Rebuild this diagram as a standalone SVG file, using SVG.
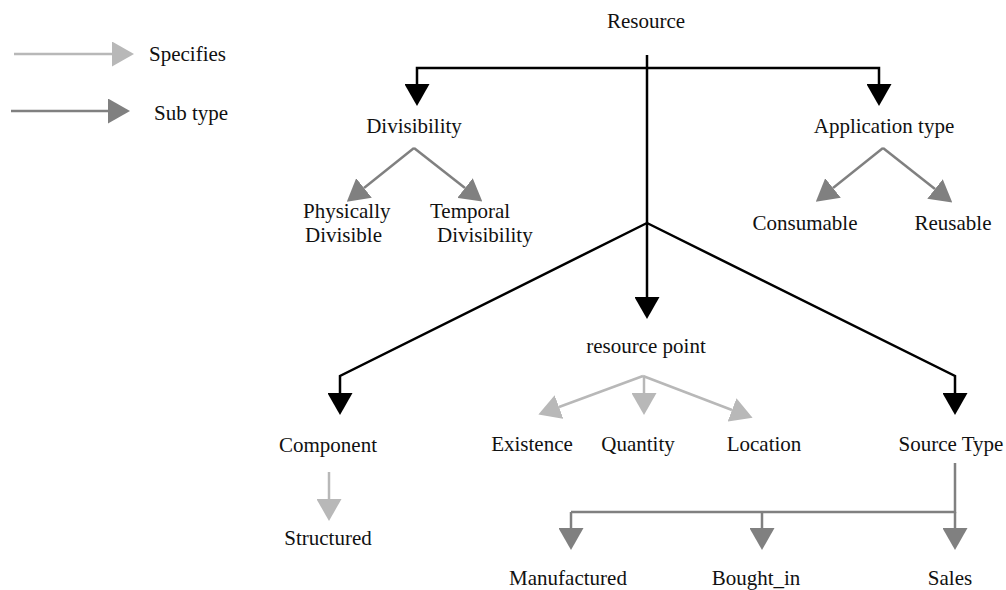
<svg xmlns="http://www.w3.org/2000/svg" width="1006" height="590" viewBox="0 0 1006 590">
<style>
text{font-family:"Liberation Serif","Times New Roman",serif;font-size:21px;fill:#111;text-anchor:middle}
.s{text-anchor:start}
.k{fill:none;stroke:#000;stroke-width:2.5}
.d{fill:none;stroke:#808080;stroke-width:2.5}
.l{fill:none;stroke:#b8b8b8;stroke-width:2.5}
.k{marker-end:url(#ak)}
.d{marker-end:url(#ad)}
.l{marker-end:url(#al)}
.nm{marker-end:none}
</style>
<defs>
<marker id="ak" viewBox="0 0 22 25" refX="0" refY="12.5" markerWidth="22" markerHeight="25" markerUnits="userSpaceOnUse" orient="auto"><path d="M0,0L22,12.5L0,25z" fill="#000"/></marker>
<marker id="ad" viewBox="0 0 22 25" refX="0" refY="12.5" markerWidth="22" markerHeight="25" markerUnits="userSpaceOnUse" orient="auto"><path d="M0,0L22,12.5L0,25z" fill="#808080"/></marker>
<marker id="al" viewBox="0 0 22 25" refX="0" refY="12.5" markerWidth="22" markerHeight="25" markerUnits="userSpaceOnUse" orient="auto"><path d="M0,0L22,12.5L0,25z" fill="#b8b8b8"/></marker>
</defs>
<g id="legend">
<path class="l" d="M14,54H112"/>
<text class="s" x="149" y="61">Specifies</text>
<path class="d" d="M11,111H108"/>
<text class="s" x="154" y="120">Sub type</text>
</g>
<g id="connectors">
<path class="k" d="M647,55V297"/>
<path class="k" d="M647,68H417V84"/>
<path class="k" d="M647,68H879V84"/>
<path class="k" d="M647,223L340,376V393"/>
<path class="k" d="M647,223L955,376V393"/>
<path class="d" d="M414,148L364,188"/>
<path class="d" d="M414,148L465,188"/>
<path class="d" d="M883,148L833,188"/>
<path class="d" d="M883,148L935,189"/>
<path class="l" d="M643,376L559,407"/>
<path class="l" d="M644,376V393"/>
<path class="l" d="M643,376L732,410"/>
<path class="l" d="M329,472V499"/>
<path class="d nm" d="M955,463V512H571"/>
<path class="d" d="M571,512V528"/>
<path class="d" d="M762,512V528"/>
<path class="d" d="M955,512V528"/>
</g>
<g id="resource"><text x="646" y="28">Resource</text></g>
<g id="divisibility"><text x="414" y="133">Divisibility</text></g>
<g id="application-type"><text x="884" y="133">Application type</text></g>
<g id="physically-divisible"><text class="s" x="303" y="218">Physically</text><text class="s" x="305" y="242">Divisible</text></g>
<g id="temporal-divisibility"><text class="s" x="430" y="218">Temporal</text><text class="s" x="437" y="242">Divisibility</text></g>
<g id="consumable"><text x="805" y="230">Consumable</text></g>
<g id="reusable"><text x="953" y="230">Reusable</text></g>
<g id="resource-point"><text x="646" y="353">resource point</text></g>
<g id="component"><text x="328" y="452">Component</text></g>
<g id="existence"><text x="532" y="451">Existence</text></g>
<g id="quantity"><text x="638" y="451">Quantity</text></g>
<g id="location"><text x="764" y="451">Location</text></g>
<g id="source-type"><text x="951" y="451">Source Type</text></g>
<g id="structured"><text x="328" y="545">Structured</text></g>
<g id="manufactured"><text x="568" y="585">Manufactured</text></g>
<g id="bought-in"><text x="756" y="585">Bought_in</text></g>
<g id="sales"><text x="950" y="585">Sales</text></g>
</svg>
